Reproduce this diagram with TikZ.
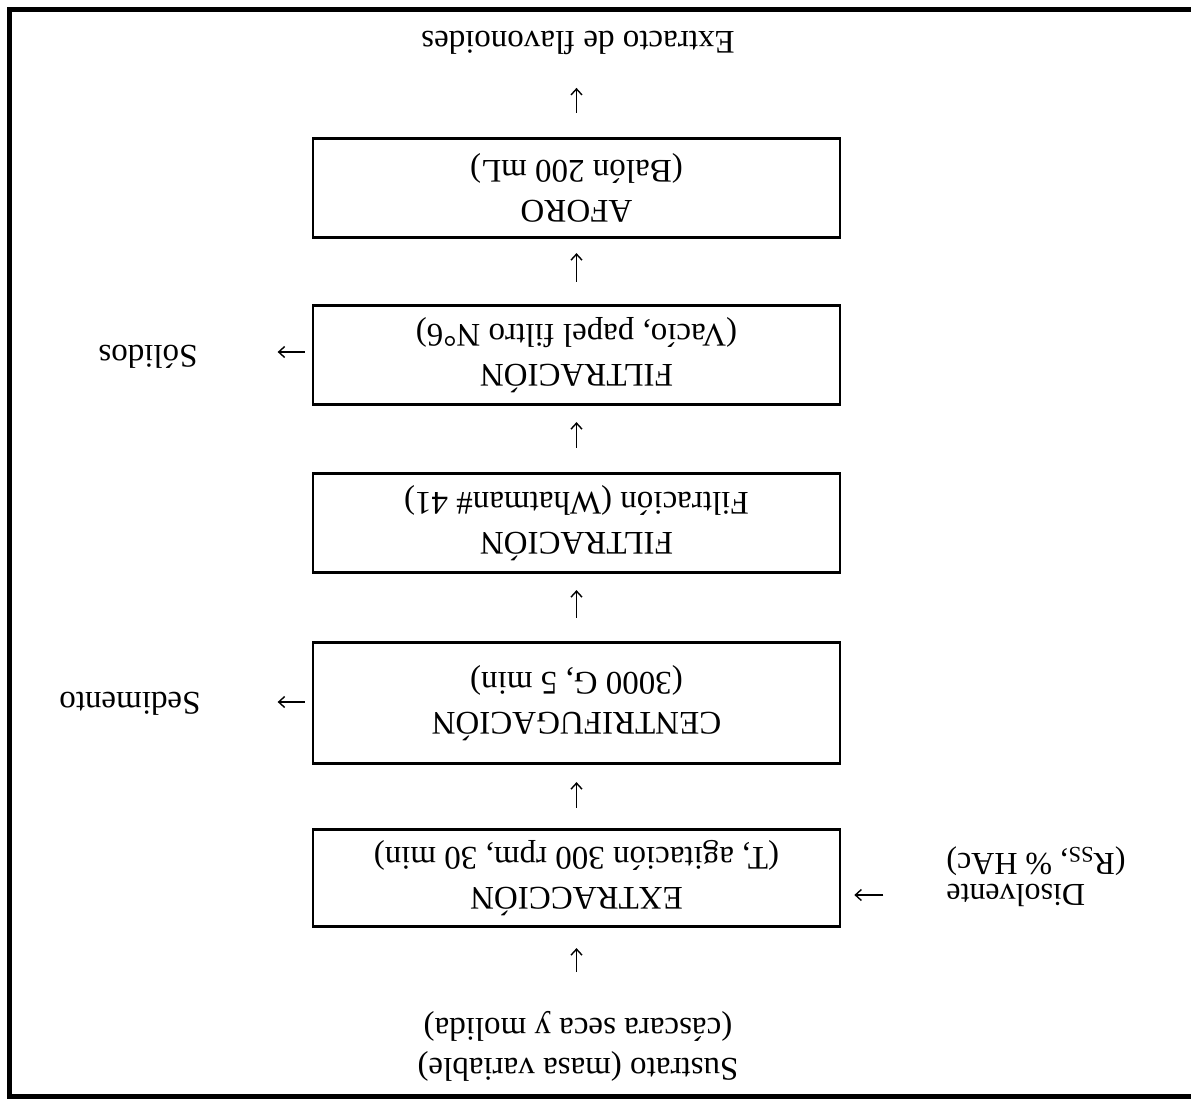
\documentclass[tikz,border=0pt]{standalone}
\usepackage{fontspec}
\setmainfont{Liberation Serif}
\usetikzlibrary{arrows.meta}
\tikzset{
  stepbox/.style={draw, line width=2.7pt, minimum width=527pt, inner sep=0pt,
    rotate=180, align=center, font=\fontsize{33}{40}\selectfont},
  flipped/.style={rotate=180, align=center, inner sep=0pt, font=\fontsize{33}{40}\selectfont},
  arr/.style={line width=1.4pt, -{Straight Barb[length=6pt,width=11pt,line width=1.4pt]}}
}
\begin{document}
\begin{tikzpicture}[x=1pt,y=-1pt]
\useasboundingbox (0,0) rectangle (1191,1099);
\clip (0,0) rectangle (1191,1099);
% frame
\draw[line width=5pt] (1250,9.5) -- (9.5,9.5) -- (9.5,1096.5) -- (1250,1096.5);

% boxes
\node[stepbox, minimum height=99.5pt] (afo) at (576.5,188) {AFORO\\(Balón 200 mL)};
\node[stepbox, minimum height=99.5pt] (f1) at (576.5,355) {FILTRACIÓN\\(Vacío, papel filtro N°6)};
\node[stepbox, minimum height=99.5pt] (f2) at (576.5,523) {FILTRACIÓN\\Filtración (Whatman\# 41)};
\node[stepbox, minimum height=121.5pt] (cen) at (576.5,703) {CENTRIFUGACIÓN\\(3000 G, 5 min)};
\node[stepbox, minimum height=97.5pt] (ext) at (576.5,878) {EXTRACCIÓN\\(T, agitación 300 rpm, 30 min)};

% texts
\node[flipped] (fla) at (578,43) {Extracto de flavonoides};
\node[flipped] (sol) at (148,357) {Sólidos};
\node[flipped] (sed) at (130,704) {Sedimento};
\node[flipped, align=right, font=\fontsize{32}{31}\selectfont] (dis) at (1036,877) {Disolvente\\(R\textsubscript{SS}, \% HAc)};
\node[flipped, font=\fontsize{33}{40}\selectfont] (sus) at (578,1046) {Sustrato (masa variable)\\(cáscara seca y molida)};

% vertical arrows (screen top of a rotated node = .south, screen bottom = .north)
\draw[arr] ([yshift=24pt]afo.south) -- ([yshift=49pt]afo.south);
\draw[arr] ([yshift=22pt]f1.south) -- ([yshift=-14pt]afo.north);
\draw[arr] ([yshift=24pt]f2.south) -- ([yshift=-16pt]f1.north);
\draw[arr] ([yshift=23pt]cen.south) -- ([yshift=-16pt]f2.north);
\draw[arr] ([yshift=20pt]ext.south) -- ([yshift=-17pt]cen.north);
\draw[arr] ([yshift=-44pt]ext.north) -- ([yshift=-20pt]ext.north);

% horizontal arrows (screen left = .east, screen right = .west)
\draw[arr] ([xshift=-7pt,yshift=3pt]f1.east) -- ([xshift=-34pt,yshift=3pt]f1.east);
\draw[arr] ([xshift=-7pt,yshift=1pt]cen.east) -- ([xshift=-34pt,yshift=1pt]cen.east);
\draw[arr] ([xshift=42pt,yshift=-17pt]ext.west) -- ([xshift=13pt,yshift=-17pt]ext.west);
\end{tikzpicture}
\end{document}
